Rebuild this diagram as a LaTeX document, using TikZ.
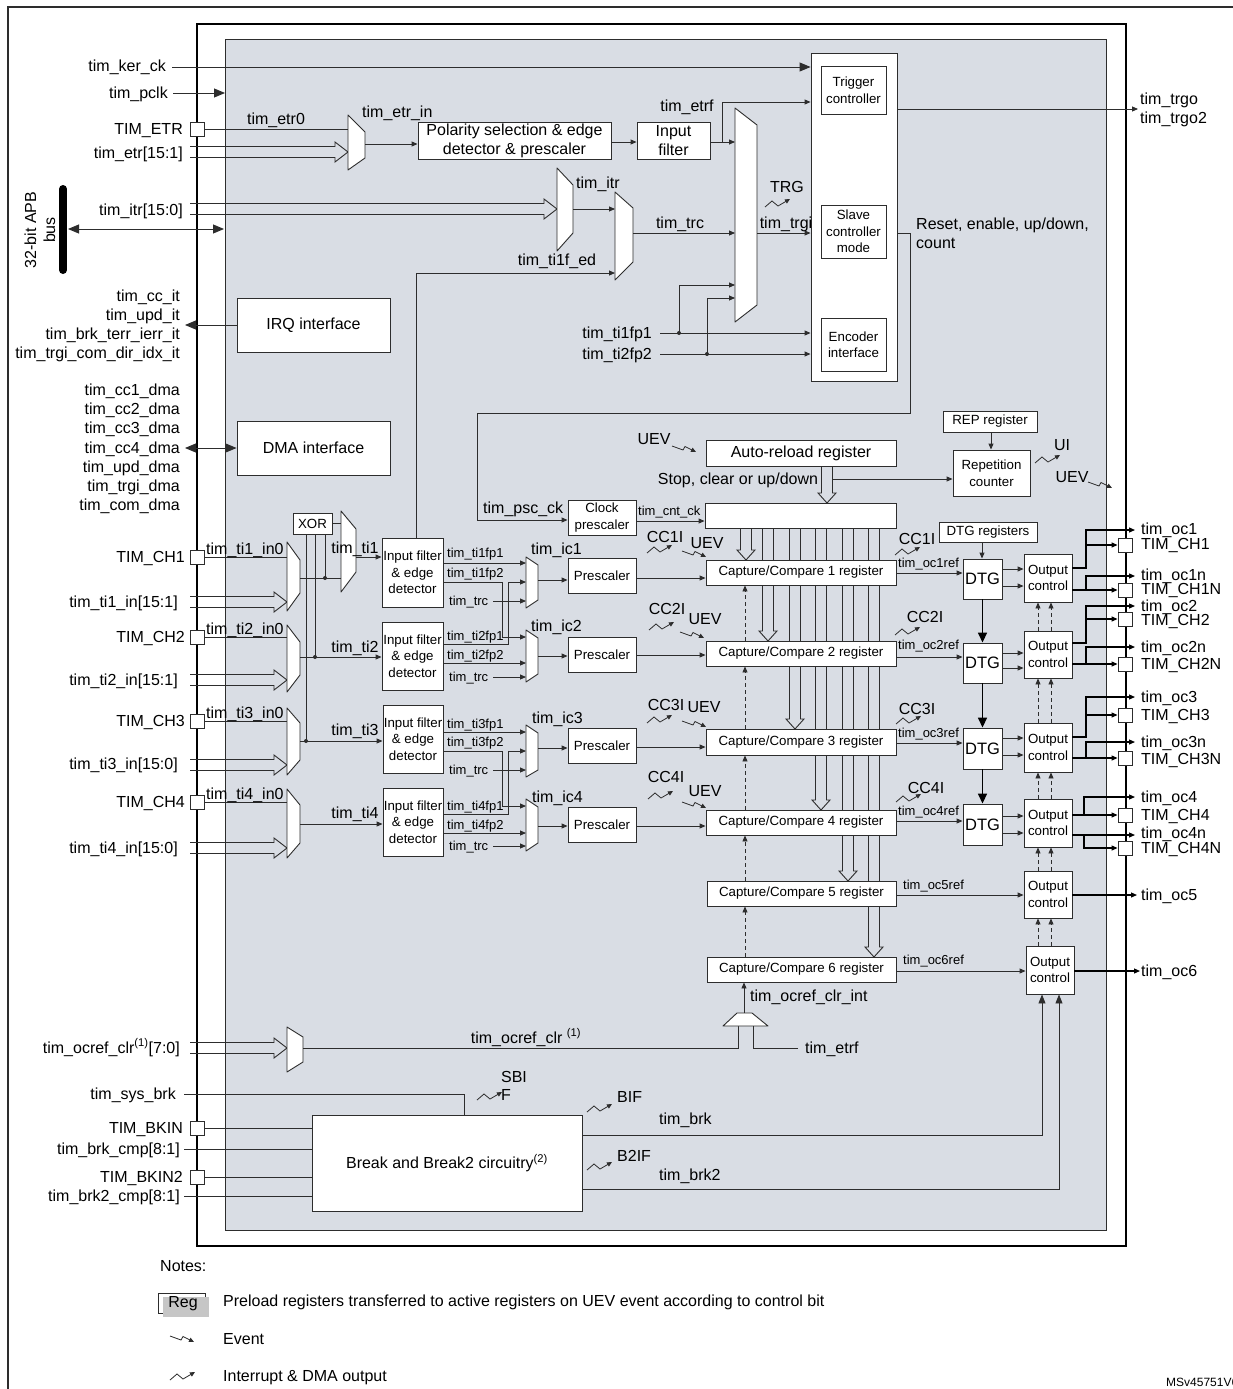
\documentclass[tikz,border=0pt]{standalone}
\usepackage{fontspec}
\setmainfont{Liberation Sans}
\usetikzlibrary{arrows.meta}
\definecolor{bg}{RGB}{217,221,228}
\definecolor{ln}{RGB}{45,45,45}
\newcommand\fMain{\fontsize{16}{19}\selectfont}
\newcommand\fBus{\fontsize{16}{19}\selectfont}
\newcommand\fBox{\fontsize{13.3}{16.5}\selectfont}
\newcommand\fSm{\fontsize{13}{15}\selectfont}
\newcommand\fBig{\fontsize{16}{19}\selectfont}
\newcommand\fDTG{\fontsize{16.5}{19}\selectfont}
\newcommand\fLeg{\fontsize{16}{19}\selectfont}
\newcounter{lbc}
\tikzset{
  wire/.style={draw=ln, line width=0.9pt},
  outw/.style={draw=black, line width=1.2pt},
  muxs/.style={draw=ln, fill=white, line width=0.9pt, line join=round},
  box/.style={draw=ln, fill=white, line width=0.9pt, inner sep=0pt, align=center, font=\fBox},
  lbl/.style={inner sep=0pt, font=\fMain, text height=11pt, text depth=1pt},
  sm/.style={font=\fSm, text height=9.5pt, text depth=1pt},
  arr/.style={-{Triangle[length=6pt,width=5pt]}},
  barr/.style={-{Triangle[length=11pt,width=9pt]}},
  marr/.style={-{Triangle[length=9pt,width=7pt]}},
  darr/.style={{Triangle[length=11pt,width=9pt]}-{Triangle[length=11pt,width=9pt]}},
  dsh/.style={draw=ln, line width=0.9pt, dash pattern=on 4pt off 3pt},
  thk/.style={draw=black, line width=1.6pt, -{Triangle[length=10pt,width=9pt]}},
  padst/.style={draw=ln, fill=white, line width=0.9pt, minimum size=14pt, inner sep=0pt},
  irq/.pic={\draw[draw=ln, line width=0.8pt, -{Triangle[length=5pt,width=4.5pt]}] (0,0) -- (7,-6) -- (13,-1) -- (25,-8);},
  evt/.pic={\draw[draw=ln, line width=0.8pt, -{Triangle[length=5pt,width=4.5pt]}] (0,0) -- (11,4) -- (13,0.5) -- (24,6);}
}
\makeatletter
\newcommand\bx[5][]{\bx@a{#1}{#2}{#5}#3;#4;}
\def\bx@a#1#2#3#4,#5;#6,#7;{%
  \pgfmathsetmacro\bxw{#6-#4}%
  \pgfmathsetmacro\bxh{#7-#5}%
  \pgfmathsetmacro\bxx{(#4+#6)/2}%
  \pgfmathsetmacro\bxy{(#5+#7)/2}%
  \node[box,minimum width=\bxw pt,minimum height=\bxh pt,#1] (#2) at (\bxx,\bxy) {#3};}
\makeatother
\newcommand\mux[6]{\draw[muxs] (#1,#3) -- (#2,#4) -- (#2,#5) -- (#1,#6) -- cycle;}
\newcommand\bus[3]{\draw[wire] (#1,#3-5.5) -- (#2-13,#3-5.5) -- (#2-13,#3-10) -- (#2,#3) -- (#2-13,#3+10) -- (#2-13,#3+5.5) -- (#1,#3+5.5);}
\newcommand\vbus[3]{\draw[wire] (#1-5.5,#2) -- (#1-5.5,#3-10) -- (#1-9,#3-10) -- (#1,#3) -- (#1+9,#3-10) -- (#1+5.5,#3-10) -- (#1+5.5,#2);}
\newcommand\lb[4][]{\stepcounter{lbc}\node[lbl,#1] (lb\arabic{lbc}) at (#2,#3) {#4};}
\begin{document}
\begin{tikzpicture}[x=1pt,y=-1pt]
\useasboundingbox (0,0) rectangle (1232,1389);
\fill[white] (0,0) rectangle (1232,1389);
% frames
\draw[ln, line width=1.2pt] (8,1400) -- (8,7) -- (1240,7);
\draw[black, line width=2pt] (197,24) rectangle (1126,1246);
\draw[ln, line width=0.9pt, fill=bg] (225,39) rectangle (1106,1230);

% hollow arrows from counter (behind registers)
\vbus{746}{528}{560}
\vbus{768}{528}{641}
\vbus{795}{528}{729}
\vbus{821}{528}{810}
\vbus{848}{528}{881}
\vbus{874}{528}{957}
\vbus{827}{466}{503}

% ---------- boxes ----------
\bx{bigblk}{811,53}{897,381}{}
\bx{trigc}{821,66}{886,114}{Trigger\\controller}
\bx{slave}{821,205}{886,258}{Slave\\controller\\mode}
\bx{enc}{821,318}{886,371}{Encoder\\interface}
\bx[font=\fBig]{pol}{418,122}{611,159}{Polarity selection \& edge\\detector \& prescaler}
\bx[font=\fBig]{inf}{637,122}{710,159}{Input\\filter}
\bx[font=\fBig]{irqbox}{237,298}{390,352}{IRQ interface}
\bx[font=\fBig]{dmabox}{237,421}{390,475}{DMA interface}
\bx{xor}{293,513}{332,534}{XOR}
\bx{filt1}{382,538}{443,607}{Input filter\\\& edge\\detector}
\bx{filt2}{382,622}{443,690}{Input filter\\\& edge\\detector}
\bx{filt3}{383,705}{443,773}{Input filter\\\& edge\\detector}
\bx{filt4}{383,788}{443,856}{Input filter\\\& edge\\detector}
\bx{psc1}{568,558}{636,593}{Prescaler}
\bx{psc2}{568,637}{636,672}{Prescaler}
\bx{psc3}{568,728}{636,763}{Prescaler}
\bx{psc4}{568,807}{636,842}{Prescaler}
\bx{clkpsc}{568,500}{636,535}{Clock\\prescaler}
\bx{cnt}{705,503}{896,528}{}
\bx[font=\fMain]{arld}{706,440}{896,466}{Auto-reload register}
\bx{rep}{943,411}{1037,432}{REP register}
\bx{repc}{953,450}{1030,496}{Repetition\\counter}
\bx{dtgr}{939,522}{1037,542}{DTG registers}
\bx{cc1}{706,560}{896,585}{Capture/Compare 1 register}
\bx{cc2}{706,641}{896,666}{Capture/Compare 2 register}
\bx{cc3}{706,729}{896,755}{Capture/Compare 3 register}
\bx{cc4}{706,810}{896,835}{Capture/Compare 4 register}
\bx{cc5}{707,881}{896,906}{Capture/Compare 5 register}
\bx{cc6}{707,957}{896,982}{Capture/Compare 6 register}
\bx[font=\fDTG]{dtg1}{963,559}{1002,599}{DTG}
\bx[font=\fDTG]{dtg2}{963,643}{1002,683}{DTG}
\bx[font=\fDTG]{dtg3}{963,728}{1002,769}{DTG}
\bx[font=\fDTG]{dtg4}{963,804}{1002,845}{DTG}
\bx{oc1}{1024,554}{1072,602}{Output\\control}
\bx{oc2}{1024,631}{1072,678}{Output\\control}
\bx{oc3}{1024,723}{1072,772}{Output\\control}
\bx{oc4}{1024,799}{1072,847}{Output\\control}
\bx{oc5}{1024,871}{1072,918}{Output\\control}
\bx{oc6}{1026,946}{1074,994}{Output\\control}
\bx[font=\fMain]{brk}{312,1115}{582,1211}{Break and Break2 circuitry\textsuperscript{(2)}}

% ---------- pads ----------
\node[padst] (etrpad) at (197,129) {};
\node[padst] (ch1pad) at (197,557) {};
\node[padst] (ch2pad) at (197,637) {};
\node[padst] (ch3pad) at (197,721) {};
\node[padst] (ch4pad) at (197,802) {};
\node[padst] (bkpad) at (197,1128) {};
\node[padst] (bk2pad) at (197,1177) {};

% ---------- top section wires ----------
\draw[wire,barr] (172,67) -- (bigblk.west |- 0,67);
\draw[wire,barr] (173,93) -- (225,93);
\draw[wire] (etrpad.east) -- (348,129);
\bus{190}{348}{152}
\mux{348}{365}{115}{132}{158}{170}
\draw[wire,arr] (365,144) -- (pol.west |- 0,144);
\draw[wire,arr] (pol.east |- 0,142) -- (inf.west |- 0,142);
\draw[wire,arr] (inf.east |- 0,142) -- (735,142);
\draw[wire,arr] (722,142) -- (722,102) -- (bigblk.west |- 0,102);
\bus{190}{557}{209}
\mux{557}{573}{168}{185}{233}{251}
\draw[wire,arr] (573,209) -- (615,209);
\mux{615}{633}{192}{208}{262}{280}
\draw[wire,arr] (633,233) -- (735,233);
\draw[wire,arr] (filt1.north -| 416,0) -- (416,273) -- (615,273);
\mux{735}{757}{108}{125}{305}{322}
\draw[wire,arr] (757,233) -- (bigblk.west |- 0,233);
\draw[wire,arr] (660,333) -- (bigblk.west |- 0,333);
\draw[wire,arr] (660,354) -- (bigblk.west |- 0,354);
\draw[wire,arr] (679,333) -- (679,285) -- (735,285);
\draw[wire,arr] (707,354) -- (707,298) -- (735,298);
\fill[ln] (679,333) circle (2pt);
\fill[ln] (707,354) circle (2pt);
\draw[wire,arr] (bigblk.east |- 0,109) -- (1138,109);
\draw[wire,arr] (bigblk.east |- 0,233) -- (910,233) -- (910,413) -- (477,413) -- (477,520) -- (clkpsc.west |- 0,520);
% APB bus
\draw[black, line width=8pt, line cap=round] (63,189) -- (63,270);
\draw[wire,darr] (68,229) -- (224,229);
\draw[wire,barr] (irqbox.west) -- (185,325);
\draw[wire,darr] (185,448) -- (dmabox.west);

% ---------- input channels ----------
\draw[wire] (ch1pad.east) -- (287,557);
\bus{190}{287}{602}
\mux{287}{300}{542}{560}{593}{611}
\draw[wire] (300,578) -- (341,578);
\draw[wire] (xor.east) -- (341,523.5);
\mux{341}{356}{511}{529}{572}{592}
\draw[wire,arr] (356,557) -- (filt1.west |- 0,557);
\draw[wire] (xor.south -| 325,0) -- (325,578);
\draw[wire] (xor.south -| 315,0) -- (315,657);
\draw[wire] (xor.south -| 306,0) -- (306,741);
\fill[ln] (325,578) circle (2pt);
\fill[ln] (315,657) circle (2pt);
\fill[ln] (306,741) circle (2pt);

\draw[wire] (ch2pad.east) -- (287,637);
\bus{190}{287}{680}
\mux{287}{300}{625}{642}{675}{692}
\draw[wire,arr] (300,657) -- (filt2.west |- 0,657);

\draw[wire] (ch3pad.east) -- (287,721);
\bus{190}{287}{765}
\mux{287}{300}{708}{723}{760}{775}
\draw[wire,arr] (300,741) -- (filt3.west |- 0,741);

\draw[wire] (ch4pad.east) -- (287,802);
\bus{190}{287}{848}
\mux{287}{300}{789}{805}{843}{858}
\draw[wire,arr] (300,824) -- (filt4.west |- 0,824);

% filter outputs
\draw[wire,arr] (filt1.east |- 0,563) -- (526,563);
\draw[wire,arr] (filt1.east |- 0,582) -- (502,582) -- (502,637) -- (526,637);
\draw[wire,arr] (493,601) -- (526,601);
\draw[wire,arr] (filt2.east |- 0,644) -- (508,644) -- (508,582) -- (526,582);
\draw[wire,arr] (filt2.east |- 0,663) -- (526,663);
\draw[wire,arr] (493,677) -- (526,677);
\draw[wire,arr] (filt3.east |- 0,732) -- (526,732);
\draw[wire,arr] (filt3.east |- 0,751) -- (502,751) -- (502,806) -- (526,806);
\draw[wire,arr] (493,770) -- (526,770);
\draw[wire,arr] (filt4.east |- 0,814) -- (508,814) -- (508,751) -- (526,751);
\draw[wire,arr] (filt4.east |- 0,833) -- (526,833);
\draw[wire,arr] (493,846) -- (526,846);

\mux{526}{538}{557}{565}{600}{608}
\mux{526}{538}{630}{638}{674}{682}
\mux{526}{538}{725}{733}{770}{777}
\mux{526}{538}{799}{807}{843}{851}
\draw[wire,arr] (538,580) -- (psc1.west |- 0,580);
\draw[wire,arr] (538,656) -- (psc2.west |- 0,656);
\draw[wire,arr] (538,748) -- (psc3.west |- 0,748);
\draw[wire,arr] (538,826) -- (psc4.west |- 0,826);
\draw[wire,arr] (psc1.east |- 0,578) -- (cc1.west |- 0,578);
\draw[wire,arr] (psc2.east |- 0,655) -- (cc2.west |- 0,655);
\draw[wire,arr] (psc3.east |- 0,747) -- (cc3.west |- 0,747);
\draw[wire,arr] (psc4.east |- 0,826) -- (cc4.west |- 0,826);

% counter section
\draw[wire,arr] (clkpsc.east |- 0,521) -- (cnt.west |- 0,521);
\draw[wire,arr] (832.5,479) -- (repc.west |- 0,479);
\draw[wire,arr] (rep.south -| 991,0) -- (repc.north -| 991,0);
\draw[wire,arr] (dtgr.south -| 982,0) -- (dtg1.north -| 982,0);
\foreach \a/\b in {dtg1/dtg2,dtg2/dtg3,dtg3/dtg4} \draw[thk] (\a.south) -- (\b.north);
\foreach \a/\b in {cc2/cc1,cc3/cc2,cc4/cc3,cc5/cc4,cc6/cc5} \draw[dsh,arr] (\a.north -| 745,0) -- (\b.south -| 745,0);
\foreach \a/\b in {oc2/oc1,oc3/oc2,oc4/oc3,oc5/oc4,oc6/oc5} {
  \draw[dsh,arr] (\a.north -| 1038,0) -- (\b.south -| 1038,0);
  \draw[dsh,arr] (\a.north -| 1051,0) -- (\b.south -| 1051,0);}

% CC -> DTG -> OC
\draw[wire,arr] (cc1.east |- 0,573) -- (dtg1.west |- 0,573);
\draw[wire,arr] (cc2.east |- 0,657) -- (dtg2.west |- 0,657);
\draw[wire,arr] (cc3.east |- 0,743) -- (dtg3.west |- 0,743);
\draw[wire,arr] (cc4.east |- 0,821) -- (dtg4.west |- 0,821);
\draw[wire,arr] (cc5.east |- 0,895) -- (oc5.west |- 0,895);
\draw[wire,arr] (cc6.east |- 0,971) -- (oc6.west |- 0,971);
\foreach \d/\o/\ya/\yb in {dtg1/oc1/569/586, dtg2/oc2/653/668, dtg3/oc3/738/755, dtg4/oc4/816/833} {
  \draw[wire,arr] (\d.east |- 0,\ya) -- (\o.west |- 0,\ya);
  \draw[wire,arr] (\d.east |- 0,\yb) -- (\o.west |- 0,\yb);}

% output pads
\node[padst] (p1) at (1125,545) {};
\node[padst] (p1n) at (1125,590) {};
\node[padst] (p2) at (1125,619) {};
\node[padst] (p2n) at (1125,664) {};
\node[padst] (p3) at (1125,715) {};
\node[padst] (p3n) at (1125,758) {};
\node[padst] (p4) at (1125,815) {};
\node[padst] (p4n) at (1125,848) {};

\draw[outw,arr] (oc1.east |- 0,568) -- (1086,568) -- (1086,530) -- (1135,530);
\draw[outw,arr] (1086,545) -- (p1.west);
\draw[outw,arr] (oc1.east |- 0,590) -- (p1n.west);
\draw[outw,arr] (1086,590) -- (1086,576) -- (1135,576);
\draw[outw,arr] (oc2.east |- 0,643) -- (1086,643) -- (1086,606) -- (1135,606);
\draw[outw,arr] (1086,619) -- (p2.west);
\draw[outw,arr] (oc2.east |- 0,664) -- (p2n.west);
\draw[outw,arr] (1086,664) -- (1086,647) -- (1135,647);
\draw[outw,arr] (oc3.east |- 0,737) -- (1086,737) -- (1086,697) -- (1135,697);
\draw[outw,arr] (1086,715) -- (p3.west);
\draw[outw,arr] (oc3.east |- 0,758) -- (p3n.west);
\draw[outw,arr] (1086,758) -- (1086,742) -- (1135,742);
\draw[outw,arr] (oc4.east |- 0,815) -- (p4.west);
\draw[outw,arr] (1084,815) -- (1084,797) -- (1135,797);
\draw[outw,arr] (oc4.east |- 0,835) -- (1135,835);
\draw[outw,arr] (1084,835) -- (1084,848) -- (p4n.west);
\draw[outw,arr] (oc5.east |- 0,895) -- (1137,895);
\draw[outw,arr] (oc6.east |- 0,971) -- (1140,971);

% ocref clear
\bus{190}{287}{1048}
\mux{287}{303}{1027}{1037}{1062}{1072}
\draw[wire] (303,1048) -- (738,1048) -- (738,1026);
\draw[muxs] (723,1026) -- (737,1013) -- (752,1013) -- (768,1026) -- cycle;
\coordinate (clrsel) at (744,1013);
\draw[wire,arr] (clrsel) -- (cc6.south -| 744,0);
\draw[wire] (798,1048) -- (753,1048) -- (753,1026);

% break
\draw[wire] (184,1094) -- (464,1094) -- (brk.north -| 464,0);
\draw[wire] (bkpad.east) -- (brk.west |- 0,1128);
\draw[wire] (184,1149) -- (brk.west |- 0,1149);
\draw[wire] (bk2pad.east) -- (brk.west |- 0,1177);
\draw[wire] (184,1196) -- (brk.west |- 0,1196);
\draw[wire,marr] (brk.east |- 0,1135) -- (1042,1135) -- (oc6.south -| 1042,0);
\draw[wire,marr] (brk.east |- 0,1189) -- (1059,1189) -- (oc6.south -| 1059,0);

% ---------- interrupt / event symbols ----------
\pic at (765,207) {irq};
\pic at (647,553) {irq};
\pic at (649,630) {irq};
\pic at (647,723) {irq};
\pic at (648,799) {irq};
\pic at (895,555) {irq};
\pic at (895,635) {irq};
\pic at (896,724) {irq};
\pic at (896,802) {irq};
\pic at (1035,463) {irq};
\pic at (477,1100) {irq};
\pic at (587,1112) {irq};
\pic at (587,1170) {irq};
\pic at (170,1380) {irq};
\pic at (672,446) {evt};
\pic at (682,551) {evt};
\pic at (680,632) {evt};
\pic at (682,721) {evt};
\pic at (682,802) {evt};
\pic at (1088,482) {evt};
\pic at (170,1336) {evt};

% ---------- labels ----------
\lb[anchor=east]{166}{66}{tim\_ker\_ck}
\lb[anchor=east]{168}{93}{tim\_pclk}
\lb[anchor=east]{183}{129}{TIM\_ETR}
\lb[anchor=east]{183}{153}{tim\_etr[15:1]}
\lb[anchor=east]{183}{210}{tim\_itr[15:0]}
\lb[rotate=90,align=center,text height=,text depth=]{40}{230}{32-bit APB\\bus}
\lb[anchor=east]{180}{296}{tim\_cc\_it}
\lb[anchor=east]{180}{315}{tim\_upd\_it}
\lb[anchor=east]{180}{334}{tim\_brk\_terr\_ierr\_it}
\lb[anchor=east]{180}{353}{tim\_trgi\_com\_dir\_idx\_it}
\lb[anchor=east]{180}{390}{tim\_cc1\_dma}
\lb[anchor=east]{180}{409}{tim\_cc2\_dma}
\lb[anchor=east]{180}{428}{tim\_cc3\_dma}
\lb[anchor=east]{180}{448}{tim\_cc4\_dma}
\lb[anchor=east]{180}{467}{tim\_upd\_dma}
\lb[anchor=east]{180}{486}{tim\_trgi\_dma}
\lb[anchor=east]{180}{505}{tim\_com\_dma}
\lb[anchor=east]{185}{557}{TIM\_CH1}
\lb[anchor=east,font=\fBus]{178}{602}{tim\_ti1\_in[15:1]}
\lb[anchor=east]{185}{637}{TIM\_CH2}
\lb[anchor=east,font=\fBus]{178}{680}{tim\_ti2\_in[15:1]}
\lb[anchor=east]{185}{721}{TIM\_CH3}
\lb[anchor=east,font=\fBus]{178}{764}{tim\_ti3\_in[15:0]}
\lb[anchor=east]{185}{802}{TIM\_CH4}
\lb[anchor=east,font=\fBus]{178}{848}{tim\_ti4\_in[15:0]}
\lb[anchor=east]{180}{1048}{tim\_ocref\_clr\textsuperscript{(1)}[7:0]}
\lb[anchor=east]{176}{1094}{tim\_sys\_brk}
\lb[anchor=east]{183}{1128}{TIM\_BKIN}
\lb[anchor=east]{180}{1149}{tim\_brk\_cmp[8:1]}
\lb[anchor=east]{183}{1177}{TIM\_BKIN2}
\lb[anchor=east]{180}{1196}{tim\_brk2\_cmp[8:1]}

\lb{276}{119}{tim\_etr0}
\lb[anchor=west]{362}{112}{tim\_etr\_in}
\lb{687}{106}{tim\_etrf}
\lb[anchor=west]{576}{183}{tim\_itr}
\lb{680}{223}{tim\_trc}
\lb{557}{260}{tim\_ti1f\_ed}
\lb{787}{187}{TRG}
\lb{786}{223}{tim\_trgi}
\lb[anchor=east]{652}{333}{tim\_ti1fp1}
\lb[anchor=east]{652}{354}{tim\_ti2fp2}
\lb[anchor=west]{1140}{99}{tim\_trgo}
\lb[anchor=west]{1140}{118}{tim\_trgo2}
\lb[anchor=west]{916}{224}{Reset, enable, up/down,}
\lb[anchor=west]{916}{243}{count}

\lb[anchor=west]{206}{549}{tim\_ti1\_in0}
\lb[anchor=west]{206}{629}{tim\_ti2\_in0}
\lb[anchor=west]{206}{713}{tim\_ti3\_in0}
\lb[anchor=west]{206}{794}{tim\_ti4\_in0}
\lb{355}{548}{tim\_ti1}
\lb{355}{647}{tim\_ti2}
\lb{355}{730}{tim\_ti3}
\lb{355}{813}{tim\_ti4}
\lb[sm,anchor=west]{447}{553}{tim\_ti1fp1}
\lb[sm,anchor=west]{447}{573}{tim\_ti1fp2}
\lb[sm,anchor=west]{449}{601}{tim\_trc}
\lb[sm,anchor=west]{447}{636}{tim\_ti2fp1}
\lb[sm,anchor=west]{447}{655}{tim\_ti2fp2}
\lb[sm,anchor=west]{449}{677}{tim\_trc}
\lb[sm,anchor=west]{447}{724}{tim\_ti3fp1}
\lb[sm,anchor=west]{447}{742}{tim\_ti3fp2}
\lb[sm,anchor=west]{449}{770}{tim\_trc}
\lb[sm,anchor=west]{447}{806}{tim\_ti4fp1}
\lb[sm,anchor=west]{447}{825}{tim\_ti4fp2}
\lb[sm,anchor=west]{449}{846}{tim\_trc}
\lb[anchor=west]{531}{549}{tim\_ic1}
\lb[anchor=west]{531}{626}{tim\_ic2}
\lb[anchor=west]{532}{718}{tim\_ic3}
\lb[anchor=west]{532}{797}{tim\_ic4}

\lb[anchor=west]{483}{508}{tim\_psc\_ck}
\lb[sm,anchor=west]{638}{511}{tim\_cnt\_ck}
\lb{654}{439}{UEV}
\lb{738}{479}{Stop, clear or up/down}
\lb{1062}{445}{UI}
\lb{1072}{477}{UEV}
\lb{665}{537}{CC1I}
\lb{707}{543}{UEV}
\lb{667}{609}{CC2I}
\lb{705}{619}{UEV}
\lb{666}{705}{CC3I}
\lb{704}{707}{UEV}
\lb{666}{777}{CC4I}
\lb{705}{791}{UEV}
\lb{917}{539}{CC1I}
\lb{925}{617}{CC2I}
\lb{917}{709}{CC3I}
\lb{926}{788}{CC4I}
\lb[sm,anchor=west]{898}{563}{tim\_oc1ref}
\lb[sm,anchor=west]{898}{645}{tim\_oc2ref}
\lb[sm,anchor=west]{898}{733}{tim\_oc3ref}
\lb[sm,anchor=west]{898}{811}{tim\_oc4ref}
\lb[sm,anchor=west]{903}{885}{tim\_oc5ref}
\lb[sm,anchor=west]{903}{960}{tim\_oc6ref}

\lb[anchor=west]{1141}{529}{tim\_oc1}
\lb[anchor=west]{1141}{544}{TIM\_CH1}
\lb[anchor=west]{1141}{575}{tim\_oc1n}
\lb[anchor=west]{1141}{589}{TIM\_CH1N}
\lb[anchor=west]{1141}{606}{tim\_oc2}
\lb[anchor=west]{1141}{620}{TIM\_CH2}
\lb[anchor=west]{1141}{647}{tim\_oc2n}
\lb[anchor=west]{1141}{664}{TIM\_CH2N}
\lb[anchor=west]{1141}{697}{tim\_oc3}
\lb[anchor=west]{1141}{715}{TIM\_CH3}
\lb[anchor=west]{1141}{742}{tim\_oc3n}
\lb[anchor=west]{1141}{759}{TIM\_CH3N}
\lb[anchor=west]{1141}{797}{tim\_oc4}
\lb[anchor=west]{1141}{815}{TIM\_CH4}
\lb[anchor=west]{1141}{833}{tim\_oc4n}
\lb[anchor=west]{1141}{848}{TIM\_CH4N}
\lb[anchor=west]{1141}{895}{tim\_oc5}
\lb[anchor=west]{1141}{971}{tim\_oc6}

\lb{526}{1038}{tim\_ocref\_clr \textsuperscript{(1)}}
\lb[anchor=west]{750}{996}{tim\_ocref\_clr\_int}
\lb[anchor=west]{805}{1048}{tim\_etrf}
\lb{514}{1077}{SBI}
\lb{506}{1095}{F}
\lb[anchor=west]{617}{1097}{BIF}
\lb[anchor=west]{659}{1119}{tim\_brk}
\lb[anchor=west]{617}{1156}{B2IF}
\lb[anchor=west]{659}{1175}{tim\_brk2}

% ---------- notes ----------
\lb[anchor=west]{160}{1266}{Notes:}
\draw[ln, line width=0.8pt] (158,1293) rectangle (205,1313);
\fill[gray!45] (163,1297) rectangle (209,1317);
\lb{183}{1302}{Reg}
\lb[anchor=west,font=\fLeg]{223}{1301}{Preload registers transferred to active registers on UEV event according to control bit}
\lb[anchor=west,font=\fLeg]{223}{1339}{Event}
\lb[anchor=west,font=\fLeg]{223}{1376}{Interrupt \& DMA output}
\lb[anchor=west,font=\fontsize{12}{14}\selectfont]{1166}{1381}{MSv45751V6}
\end{tikzpicture}
\end{document}
